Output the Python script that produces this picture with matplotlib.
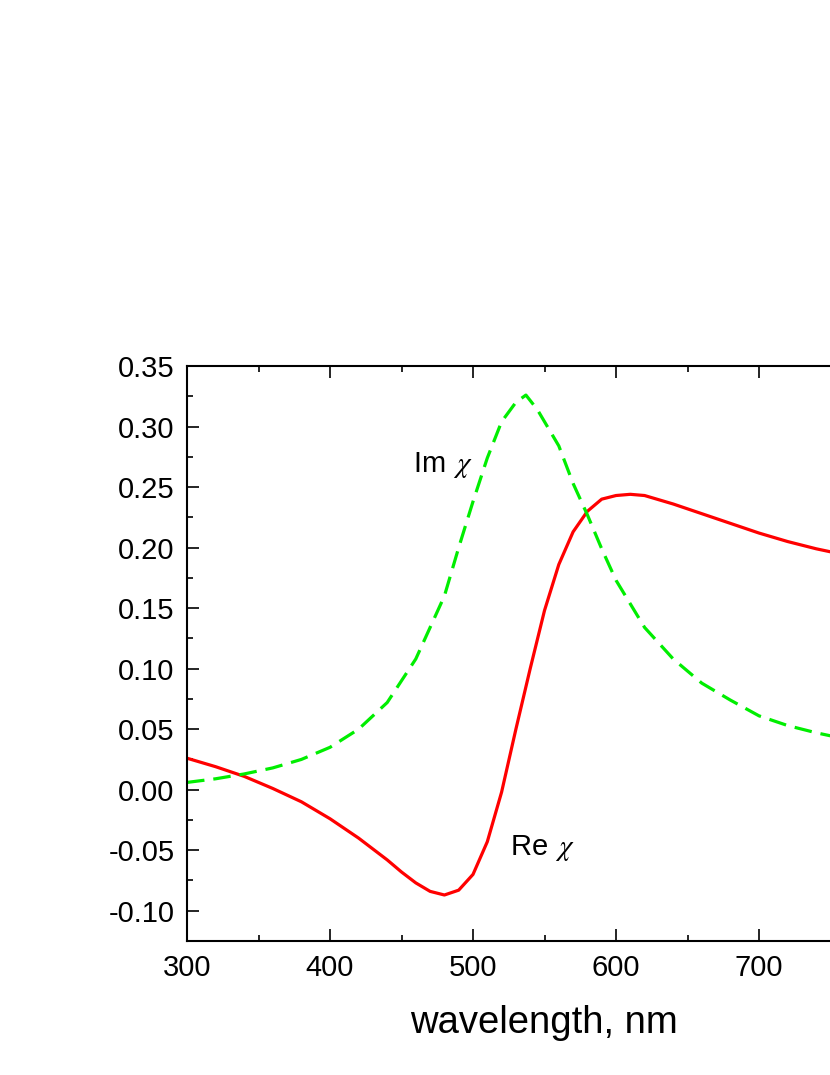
import matplotlib
matplotlib.use("Agg")
import matplotlib.pyplot as plt
from matplotlib.ticker import MultipleLocator

plt.rcParams["font.family"] = ["Liberation Sans", "DejaVu Sans"]
plt.rcParams["mathtext.fontset"] = "stix"

# Re chi (red, solid)
re_wl = [300, 320, 340, 360, 380, 400, 420, 440, 450, 460, 470, 480, 490, 500,
         510, 520, 530, 540, 550, 560, 570, 580, 590, 600, 610, 620, 640, 660,
         680, 700, 720, 740, 760, 780, 800]
re_chi = [0.026, 0.019, 0.011, 0.001, -0.010, -0.024, -0.040, -0.058, -0.068,
          -0.077, -0.084, -0.087, -0.083, -0.070, -0.043, -0.002, 0.050, 0.100,
          0.148, 0.186, 0.213, 0.230, 0.240, 0.243, 0.244, 0.243, 0.236, 0.228,
          0.220, 0.212, 0.205, 0.199, 0.194, 0.189, 0.185]

# Im chi (green, dashed)
im_wl = [300, 320, 340, 360, 380, 400, 420, 440, 460, 480, 490, 500, 510, 520,
         530, 537, 545, 550, 560, 570, 580, 590, 600, 620, 640, 660, 680, 700,
         720, 740, 760, 780, 800]
im_chi = [0.006, 0.009, 0.013, 0.018, 0.025, 0.035, 0.050, 0.072, 0.108, 0.160,
          0.200, 0.238, 0.274, 0.304, 0.320, 0.326, 0.314, 0.304, 0.284, 0.253,
          0.227, 0.199, 0.173, 0.134, 0.108, 0.088, 0.074, 0.061, 0.053, 0.047,
          0.042, 0.039, 0.036]

x_ticks = [300, 400, 500, 600, 700]
y_ticks = [-0.10, -0.05, 0.00, 0.05, 0.10, 0.15, 0.20, 0.25, 0.30, 0.35]

fig = plt.figure(figsize=(8.3, 10.75), dpi=100)
ax = fig.add_axes([187 / 830, 134 / 1075, (902 - 187) / 830, 575 / 1075])

ax.plot(re_wl, re_chi, color="#ff0000", lw=2.3)
ax.plot(im_wl, im_chi, color="#00ee00", lw=2.3, linestyle=(0, (5.5, 2.8)))

ax.set_xlim(300, 800)
ax.set_ylim(-0.125, 0.35)
ax.set_xticks(x_ticks)
ax.set_yticks(y_ticks)
ax.set_yticklabels([f"{v:.2f}" for v in y_ticks])
ax.xaxis.set_minor_locator(MultipleLocator(50))
ax.yaxis.set_minor_locator(MultipleLocator(0.025))

for s in ax.spines.values():
    s.set_linewidth(1.5)
ax.tick_params(which="both", direction="in", top=True, right=True, width=1.2,
               labelsize=21)
ax.tick_params(which="major", length=8.6)
ax.tick_params(which="minor", length=4.3)
ax.tick_params(axis="y", which="major", pad=9)
ax.tick_params(axis="x", which="major", pad=9)

def px2data(px, py):
    return 300 + (px - 187) / 1.43, (789 - py) / 1206

ax.text(*px2data(413, 473), r"Im $\,\chi$", fontsize=21, ha="left", va="baseline")
ax.text(*px2data(510, 854), r"Re $\,\chi$", fontsize=21, ha="left", va="baseline")

fig.text(544 / 830, 1 - 1033 / 1075, "wavelength, nm", fontsize=27.5,
         ha="center", va="baseline")

fig.savefig("out.png", dpi=100)
